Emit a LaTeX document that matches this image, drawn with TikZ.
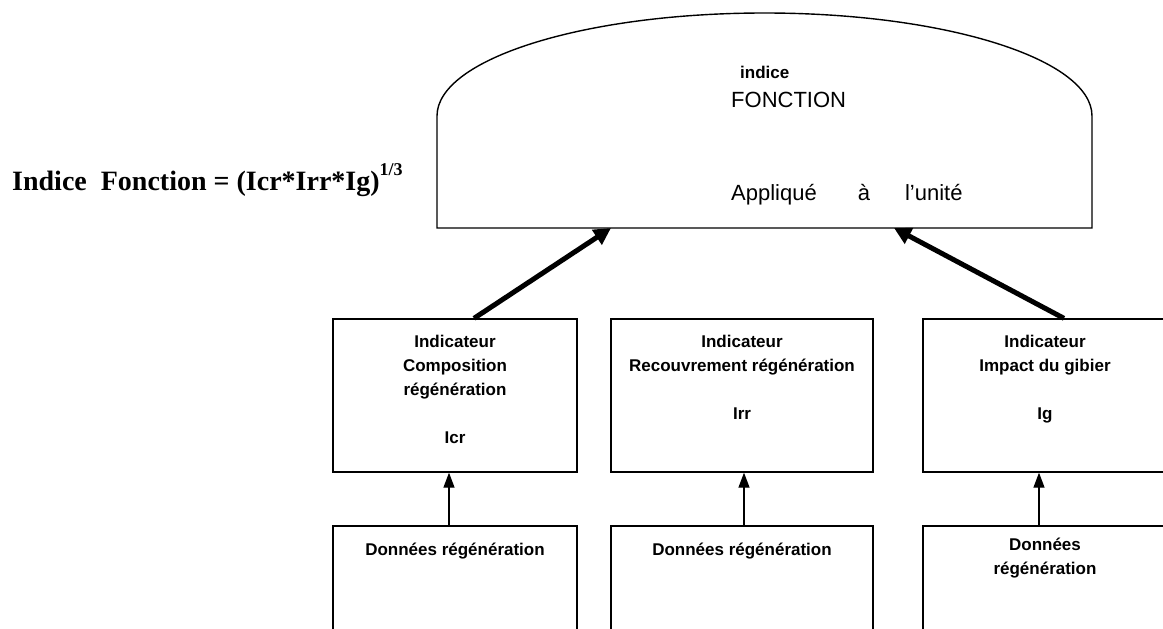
\documentclass[tikz,border=0pt]{standalone}
\usepackage{fontspec}
\setmainfont{Liberation Sans}
\newfontfamily\timesfont{Liberation Serif}
\usetikzlibrary{positioning}
\usetikzlibrary{arrows.meta}

\begin{document}
\begin{tikzpicture}[x=1pt,y=1pt,
    boite/.style={draw, line width=1.3pt, minimum width=244pt, minimum height=153pt, inner sep=0pt},
    donnee/.style={draw, line width=1.3pt, minimum width=244pt, minimum height=140pt, inner sep=0pt},
    texte/.style={inner sep=0pt, align=center, font=\fontsize{17}{24}\selectfont\bfseries},
    grosse/.style={line width=5pt, -{Triangle[length=17pt,width=17pt]}},
    fine/.style={line width=1.3pt, -{Triangle[length=15pt,width=11pt]}}]
    \clip (0,0) rectangle (1163,-629);
    % indice fonction
    \draw [line width=1.4pt] (437,-228) -- (437,-116)
        arc [start angle=180, end angle=0, x radius=327.5, y radius=103]
        -- (1092,-228) -- cycle;
    \node [anchor=base west, inner sep=0pt, font=\fontsize{17}{20}\selectfont\bfseries] (ind) at (740,-78) {indice};
    \node [anchor=base west, inner sep=0pt, font=\fontsize{22}{26}\selectfont] (fct) at (731,-107) {FONCTION};
    \node [anchor=base west, inner sep=0pt, font=\fontsize{22}{26}\selectfont] (app) at (731,-200) {Appliqué\hspace{41pt}à\hspace{35pt}l’unité};
    \coordinate (cible1) at (611,-228);
    \coordinate (cible2) at (894,-228);
    \node [anchor=base west, inner sep=0pt, font=\fontsize{28}{32}\selectfont\timesfont\bfseries] (formule) at (12,-190) {Indice\ \ Fonction = (Icr*Irr*Ig)\raisebox{15pt}{\fontsize{18}{18}\selectfont 1/3}};
    % indicateurs
    \node [boite] (ind1) at (455,-395.5) {};
    \node [boite, minimum width=262pt] (ind2) at (742,-395.5) {};
    \node [boite] (ind3) at (1045,-395.5) {};
    \node [texte, below=17pt of ind1.north] (t1) {Indicateur\\Composition\\régénération\\[24pt]Icr};
    \node [texte, below=17pt of ind2.north] (t2) {Indicateur\\Recouvrement régénération\\[24pt]Irr};
    \node [texte, below=17pt of ind3.north] (t3) {Indicateur\\Impact du gibier\\[24pt]Ig};
    % donnees
    \node [donnee] (don1) at (455,-596) {};
    \node [donnee, minimum width=262pt] (don2) at (742,-596) {};
    \node [donnee] (don3) at (1045,-596) {};
    \node [texte, below=17pt of don1.north] (d1) {Données régénération};
    \node [texte, below=17pt of don2.north] (d2) {Données régénération};
    \node [texte, below=12pt of don3.north] (d3) {Données\\régénération};
    % fleches
    \draw [fine] ([xshift=-6pt]don1.north) -- ([xshift=-6pt]ind1.south);
    \draw [fine] ([xshift=2pt]don2.north) -- ([xshift=2pt]ind2.south);
    \draw [fine] ([xshift=-6pt]don3.north) -- ([xshift=-6pt]ind3.south);
    \draw [grosse] ([xshift=19pt]ind1.north) -- (cible1);
    \draw [grosse] ([xshift=19pt]ind3.north) -- (cible2);
\end{tikzpicture}
\end{document}
